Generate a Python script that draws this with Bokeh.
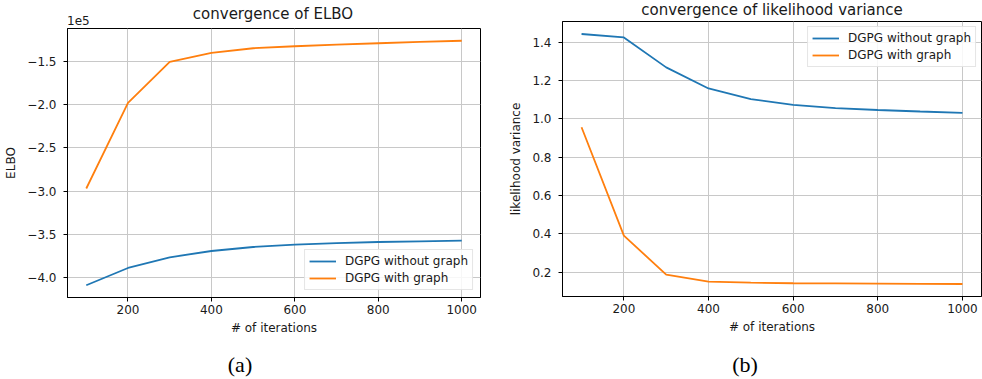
from bokeh.plotting import figure
from bokeh.models import (Range1d, FixedTicker, CustomJSTickFormatter,
                          Legend, LegendItem, Div)
from bokeh.layouts import row, column
from bokeh.embed import file_html
from bokeh.resources import INLINE

# ---------------- data ----------------
iterations = [100, 200, 300, 400, 500, 600, 700, 800, 900, 1000]
elbo_without_graph = [-4.088e5, -3.888e5, -3.765e5, -3.692e5, -3.646e5,
                      -3.618e5, -3.600e5, -3.588e5, -3.580e5, -3.573e5]
elbo_with_graph = [-2.97e5, -1.98e5, -1.508e5, -1.404e5, -1.350e5,
                   -1.327e5, -1.307e5, -1.292e5, -1.277e5, -1.263e5]
var_without_graph = [1.442, 1.424, 1.268, 1.158, 1.103, 1.073, 1.056, 1.046, 1.038, 1.031]
var_with_graph = [0.956, 0.391, 0.188, 0.151, 0.146, 0.143, 0.142, 0.141, 0.140, 0.139]

x_ticks = [200, 400, 600, 800, 1000]
elbo_ticks = [-4.0e5, -3.5e5, -3.0e5, -2.5e5, -2.0e5, -1.5e5]
var_ticks = [0.2, 0.4, 0.6, 0.8, 1.0, 1.2, 1.4]
series_names = ["DGPG without graph", "DGPG with graph"]
series_colors = ["#1f77b4", "#ff7f0e"]
titles = ["convergence of ELBO", "convergence of likelihood variance"]
y_labels = ["ELBO", "likelihood variance"]
x_label = "# of iterations"
captions = ["(a)", "(b)"]
elbo_exponent = "1e5"

FONT = "DejaVu Sans"
TEXT_COLOR = "#1a1a1a"


def padded(vals):
    lo, hi = min(vals), max(vals)
    m = (hi - lo) * 0.05
    return lo - m, hi + m


def span(text, x, top, size, family, align="left", color=TEXT_COLOR):
    shift = "transform:translateX(-50%);" if align == "center" else ""
    return (f'<span style="position:absolute;left:{x}px;top:{top}px;{shift}'
            f'white-space:nowrap;font-family:\'{family}\';font-size:{size}px;'
            f'line-height:{size}px;color:{color};">{text}</span>')


def text_div(width, height, spans):
    html = (f'<div style="position:relative;width:{width}px;height:{height}px;">'
            + "".join(spans) + "</div>")
    return Div(text=html, width=width, height=height,
               styles={"margin": "0", "padding": "0"})


def make_panel(width, height, bl, br, bt, bb, ys, yticks, yfmt, ylabel,
               legend_loc, legend_margin):
    y0, y1 = padded(ys[0] + ys[1])
    x0, x1 = padded(iterations)
    p = figure(width=width, height=height, output_backend="svg",
               toolbar_location=None, x_range=Range1d(x0, x1),
               y_range=Range1d(y0, y1),
               min_border_left=bl, min_border_right=br,
               min_border_top=bt, min_border_bottom=bb)
    p.background_fill_color = "white"
    p.border_fill_color = "white"
    p.outline_line_color = "black"
    p.outline_line_width = 1

    renderers = []
    for vals, col in zip(ys, series_colors):
        r = p.line(iterations, vals, line_color=col, line_width=1.8)
        renderers.append(r)

    for ax in (p.xaxis[0], p.yaxis[0]):
        ax.axis_line_color = "black"
        ax.major_tick_line_color = "black"
        ax.major_tick_out = 4
        ax.major_tick_in = 0
        ax.minor_tick_line_color = None
        ax.major_label_text_font = FONT
        ax.major_label_text_font_size = "12px"
        ax.major_label_text_color = TEXT_COLOR
        ax.axis_label_text_font = FONT
        ax.axis_label_text_font_size = "12px"
        ax.axis_label_text_font_style = "normal"
        ax.axis_label_text_color = TEXT_COLOR

    p.xaxis.ticker = FixedTicker(ticks=x_ticks)
    p.xaxis.major_label_standoff = 3
    p.xaxis.axis_label = x_label
    p.xaxis.axis_label_standoff = 4
    p.yaxis.ticker = FixedTicker(ticks=yticks)
    p.yaxis.formatter = yfmt
    p.yaxis.major_label_standoff = 7
    p.yaxis.axis_label = ylabel
    p.yaxis.axis_label_standoff = 6

    for g in (p.xgrid[0], p.ygrid[0]):
        g.grid_line_color = "#c8c8c8"
        g.grid_line_width = 1
    p.xgrid.ticker = FixedTicker(ticks=x_ticks)
    p.ygrid.ticker = FixedTicker(ticks=yticks)

    legend = Legend(items=[LegendItem(label=n, renderers=[r])
                           for n, r in zip(series_names, renderers)],
                    location=legend_loc, margin=legend_margin, padding=4,
                    spacing=3, glyph_width=27, glyph_height=14,
                    label_height=14, label_standoff=9,
                    label_text_font=FONT, label_text_font_size="12px",
                    label_text_color=TEXT_COLOR,
                    border_line_color="#cccccc", border_line_width=1,
                    background_fill_color="white", background_fill_alpha=0.85)
    p.add_layout(legend)
    return p


elbo_fmt = CustomJSTickFormatter(
    code="return (tick / 1e5).toFixed(1).replace('-', '\\u2212');")
var_fmt = CustomJSTickFormatter(code="return tick.toFixed(1);")

# left column: top text 27px, figure 323px, caption 29px  (total 379)
top_a = text_div(490, 27, [span(titles[0], 273, 7, 15, FONT, "center"),
                           span(elbo_exponent, 67, 15, 12, FONT)])
p1 = make_panel(490, 323, 67, 10, 1, 53,
                [elbo_without_graph, elbo_with_graph], elbo_ticks, elbo_fmt,
                y_labels[0], "bottom_right", 7)
cap_a = text_div(490, 29, [span(captions[0], 240, 4, 22, "Liberation Serif",
                                "center", "black")])

# right column: top text 20px, figure 330px, caption 29px (total 379)
top_b = text_div(492, 20, [span(titles[1], 282, 3, 15, FONT, "center")])
p2 = make_panel(492, 330, 72, 1, 1, 54,
                [var_without_graph, var_with_graph], var_ticks, var_fmt,
                y_labels[1], "top_right", 5)
cap_b = text_div(492, 29, [span(captions[1], 255, 4, 22, "Liberation Serif",
                                "center", "black")])

layout = row(column(top_a, p1, cap_a), column(top_b, p2, cap_b))
open("out.html", "w").write(file_html(layout, INLINE))
